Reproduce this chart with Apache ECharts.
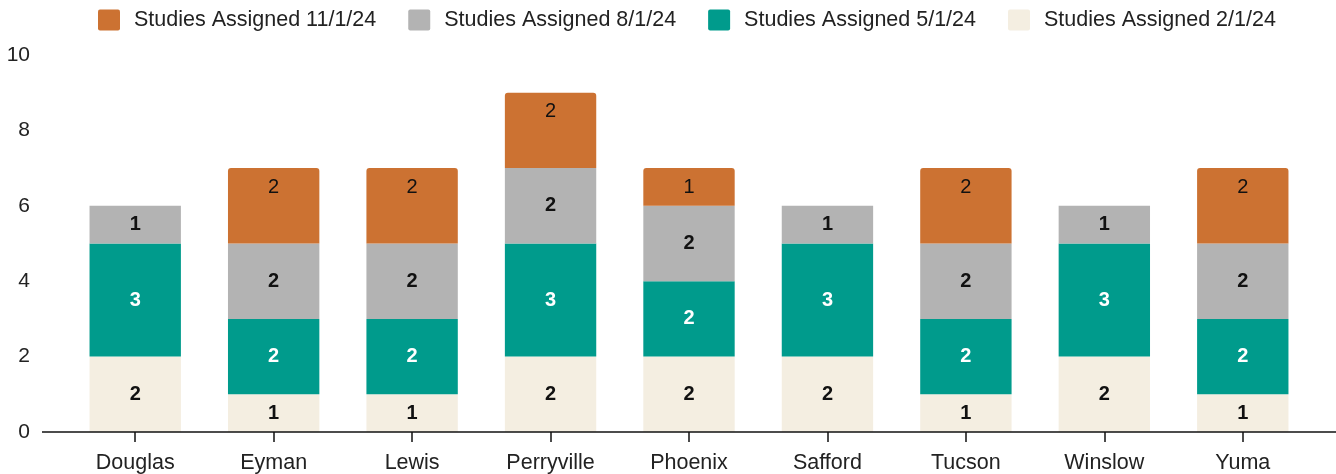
<!DOCTYPE html>
<html>
<head>
<meta charset="utf-8">
<script src="https://cdn.jsdelivr.net/npm/echarts@6/dist/echarts.min.js"></script>
<style>
html,body{margin:0;padding:0;background:#fff;}
#chart{width:1336px;height:474px;}
</style>
</head>
<body>
<div id="chart"></div>
<script>
var categories = ['Douglas','Eyman','Lewis','Perryville','Phoenix','Safford','Tucson','Winslow','Yuma'];
var assigned0201 = [2,1,1,2,2,2,1,2,1];
var assigned0501 = [3,2,2,3,2,3,2,3,2];
var assigned0801 = [1,2,2,2,2,1,2,1,2];
var assigned1101 = [null,2,2,2,1,null,2,null,2];
var seriesNames = ['Studies Assigned 11/1/24','Studies Assigned 8/1/24','Studies Assigned 5/1/24','Studies Assigned 2/1/24'];
var yTicks = [0,2,4,6,8,10];

var FONT = '"Liberation Sans", Arial, sans-serif';
var chart = echarts.init(document.getElementById('chart'), null, {renderer:'canvas'});

function labelCfg(color, weight, pos, dist){
  return {show:true, position:pos||'inside', distance:dist||5, color:color, fontWeight:weight, fontSize:20, fontFamily:FONT};
}

var option = {
  animation:false,
  backgroundColor:'#ffffff',
  legend:{
    data:seriesNames,
    left:93, top:4,
    itemWidth:22, itemHeight:21, itemGap:32,
    icon:'path://M2,0 H20 Q22,0 22,2 V19 Q22,21 20,21 H2 Q0,21 0,19 V2 Q0,0 2,0 Z',
    textStyle:{fontSize:21.5, fontFamily:FONT, color:'#222', padding:[0,0,0,9]}
  },
  grid:{left:66, right:24, top:55, bottom:42, containLabel:false},
  xAxis:{
    type:'category', data:categories,
    axisLine:{show:false},
    axisTick:{show:true, alignWithLabel:true, length:10, lineStyle:{color:'#111', width:1.5}},
    axisLabel:{fontSize:21.5, fontFamily:FONT, color:'#222', margin:20}
  },
  yAxis:{
    type:'value', min:yTicks[0], max:yTicks[yTicks.length-1], interval:2,
    splitLine:{show:false}, axisLine:{show:false}, axisTick:{show:false},
    axisLabel:{fontSize:21, fontFamily:FONT, color:'#222', margin:36, align:'right'}
  },
  graphic:[{type:'line', shape:{x1:42, y1:432, x2:1336, y2:432}, style:{stroke:'#111', lineWidth:1.5}, z:10}],
  series:[
    {name:seriesNames[3], type:'bar', stack:'s', data:assigned0201, barWidth:'66%',
     itemStyle:{color:'#F4EEE1'}, label:labelCfg('#111','bold')},
    {name:seriesNames[2], type:'bar', stack:'s', data:assigned0501,
     itemStyle:{color:'#009B8C'}, label:labelCfg('#ffffff','bold')},
    {name:seriesNames[1], type:'bar', stack:'s', data:assigned0801,
     itemStyle:{color:'#B3B3B3'}, label:labelCfg('#111','bold')},
    {name:seriesNames[0], type:'bar', stack:'s', data:assigned1101,
     itemStyle:{color:'#CC7232', borderRadius:[3,3,0,0]}, label:labelCfg('#111','normal','insideTop',9)}
  ]
};
chart.setOption(option);
</script>
</body>
</html>
